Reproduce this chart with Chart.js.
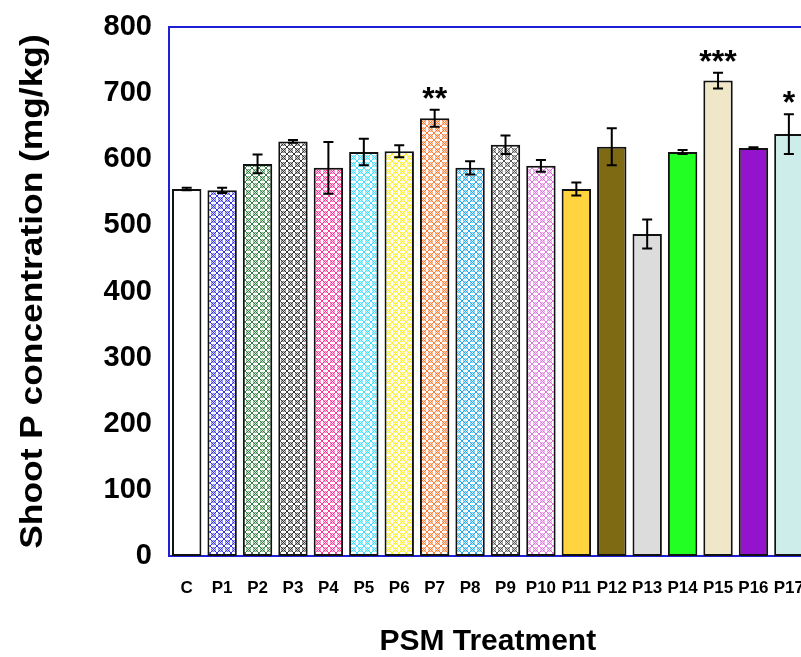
<!DOCTYPE html>
<html>
<head>
<meta charset="utf-8">
<script src="https://cdn.jsdelivr.net/npm/chart.js@4.4.1/dist/chart.umd.min.js"></script>
<style>
  html, body { margin: 0; padding: 0; background: #fff; overflow: hidden; }
  #wrap { width: 826px; height: 657px; }
</style>
</head>
<body>
<div id="wrap"><canvas id="shootPChart" width="826" height="657"></canvas></div>
<script>
// shoot P per treatment
const treatments = ["C", "P1", "P2", "P3", "P4", "P5", "P6", "P7", "P8", "P9",
  "P10", "P11", "P12", "P13", "P14", "P15", "P16", "P17"];
const shootP = [555, 553, 593, 627, 587, 611, 612, 662, 587, 622,
  590, 555, 619, 487, 611, 719, 617, 638];
const shootPErr = [2, 4, 14, 2, 39, 20, 9, 13, 10, 14,
  9, 10, 28, 22, 3, 12, 1, 30];
const signif = ["", "", "", "", "", "", "", "**", "", "",
  "", "", "", "", "", "***", "", "*"];
const yTicks = [0, 100, 200, 300, 400, 500, 600, 700, 800];
const yTitle = "Shoot P concentration (mg/kg)";

// hatched ones get a pattern, the rest are flat fills
const barColors = ["#ffffff", "#3535e8", "#2f7d3c", "#333333", "#ff3399", "#40dcff",
  "#ffee22", "#ff7a33", "#22a8ee", "#555555", "#dd77dd",
  "#ffd43f", "#7f6a14", "#dcdcdc", "#22ff22", "#efe7c8", "#9413cc", "#cdedeb"];
const hatched = [false, true, true, true, true, true, true, true, true, true, true,
  false, false, false, false, false, false, false];

const FONT = '"Liberation Sans", Arial, sans-serif';
const AXIS_BLUE = "#1f1fd8";

function makeHatch(color) {
  const c = document.createElement("canvas");
  c.width = 7; c.height = 7;
  const g = c.getContext("2d");
  g.fillStyle = "#fff";
  g.fillRect(0, 0, 7, 7);
  g.strokeStyle = color;
  g.lineWidth = 1;
  g.beginPath();
  g.moveTo(0, 0); g.lineTo(7, 7);
  g.moveTo(7, 0); g.lineTo(0, 7);
  g.stroke();
  g.beginPath();
  g.arc(3.5, 3.5, 1.8, 0, Math.PI * 2);
  g.stroke();
  return g.createPattern(c, "repeat");
}

const fills = barColors.map((col, i) => hatched[i] ? makeHatch(col) : col);

const errorBars = {
  id: "errorBars",
  afterDatasetsDraw(chart) {
    const { ctx, scales: { y } } = chart;
    const meta = chart.getDatasetMeta(0);
    ctx.save();
    ctx.strokeStyle = "#000";
    ctx.fillStyle = "#000";
    ctx.lineWidth = 2;
    meta.data.forEach((bar, i) => {
      const cx = bar.x;
      const hi = y.getPixelForValue(shootP[i] + shootPErr[i]);
      const lo = y.getPixelForValue(shootP[i] - shootPErr[i]);
      ctx.beginPath();
      ctx.moveTo(cx, hi); ctx.lineTo(cx, lo);
      ctx.moveTo(cx - 5, hi); ctx.lineTo(cx + 5, hi);
      ctx.moveTo(cx - 5, lo); ctx.lineTo(cx + 5, lo);
      ctx.stroke();
      if (signif[i]) {
        ctx.font = "bold 32px " + FONT;
        ctx.textAlign = "center";
        ctx.textBaseline = "alphabetic";
        ctx.fillText(signif[i], cx, hi - 1);
      }
    });
    ctx.restore();
  }
};

// blue frame line along the top, plus the y title (it is drawn a bit stretched in the original)
const frameAndTitle = {
  id: "frameAndTitle",
  afterDraw(chart) {
    const { ctx, chartArea: a } = chart;
    ctx.save();
    ctx.strokeStyle = AXIS_BLUE;
    ctx.lineWidth = 2;
    ctx.beginPath();
    ctx.moveTo(a.left, a.top);
    ctx.lineTo(a.right, a.top);
    ctx.stroke();

    ctx.translate(33, (a.top + a.bottom) / 2);
    ctx.rotate(-Math.PI / 2);
    ctx.scale(1.14, 1);
    ctx.font = "bold 31px " + FONT;
    ctx.fillStyle = "#000";
    ctx.textAlign = "center";
    ctx.textBaseline = "middle";
    ctx.fillText(yTitle, 0, 0);
    ctx.restore();
  }
};

const ctx = document.getElementById("shootPChart").getContext("2d");

new Chart(ctx, {
  type: "bar",
  data: {
    labels: treatments,
    datasets: [{
      label: "Shoot P",
      data: shootP,
      backgroundColor: fills,
      borderColor: "#111",
      borderWidth: 2,
      borderSkipped: false,
      categoryPercentage: 1,
      barPercentage: 0.83
    }]
  },
  options: {
    responsive: false,
    animation: false,
    layout: { padding: { top: 27, right: 0, bottom: 0, left: 0 } },
    plugins: {
      legend: { display: false },
      tooltip: { enabled: false }
    },
    scales: {
      x: {
        grid: { display: false, drawTicks: false },
        border: { display: true, color: AXIS_BLUE, width: 2 },
        ticks: {
          color: "#000",
          padding: 22,
          maxRotation: 0,
          autoSkip: false,
          font: { family: FONT, size: 17, weight: "bold" }
        },
        title: {
          display: true,
          text: "PSM Treatment",
          color: "#000",
          padding: { top: 0, bottom: -3 },
          font: { family: FONT, size: 30, weight: "bold" }
        },
        afterFit(s) { s.height = 101; }
      },
      y: {
        min: 0,
        max: 800,
        afterBuildTicks(s) { s.ticks = yTicks.map(v => ({ value: v })); },
        grid: { display: false, drawTicks: false },
        border: { display: true, color: AXIS_BLUE, width: 2 },
        ticks: {
          color: "#000",
          padding: 17,
          font: { family: FONT, size: 29, weight: "bold", lineHeight: 0.6 }
        },
        afterFit(s) { s.width = 169; }
      }
    }
  },
  plugins: [errorBars, frameAndTitle]
});
</script>
</body>
</html>
